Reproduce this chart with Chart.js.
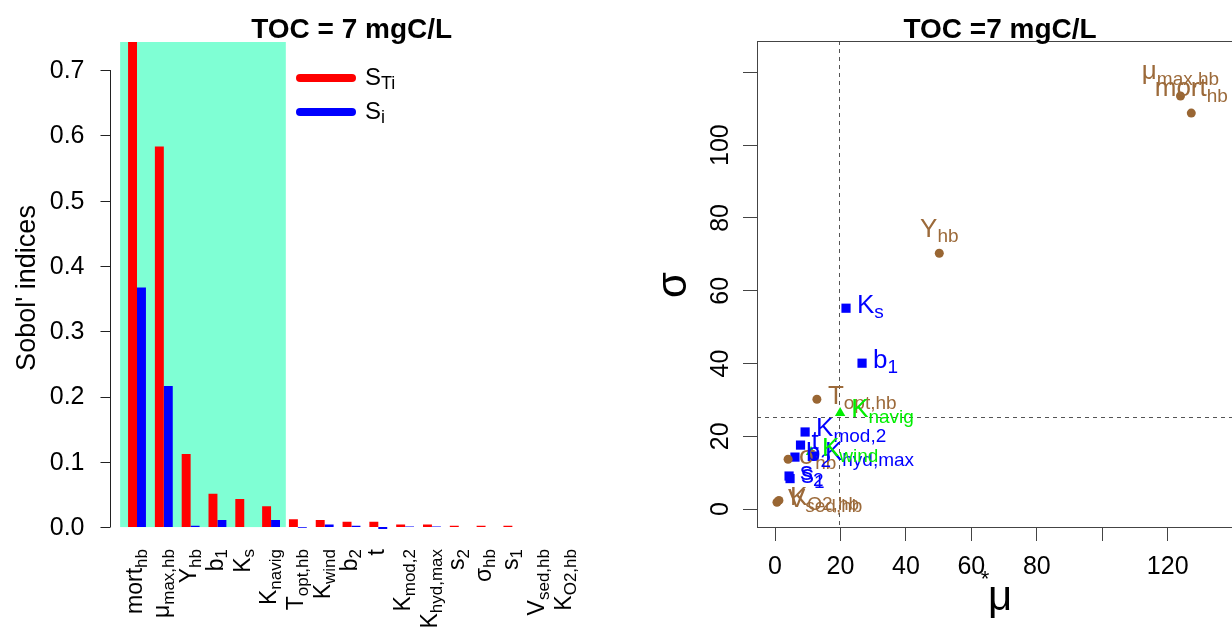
<!DOCTYPE html>
<html>
<head>
<meta charset="utf-8">
<script src="https://cdn.jsdelivr.net/npm/chart.js@4.4.0/dist/chart.umd.min.js"></script>
<style>
html, body { margin: 0; padding: 0; background: #fff; overflow: hidden; width: 1232px; height: 637px; }
#left { position: absolute; left: 0; top: 0; width: 616px; height: 637px; }
#right { position: absolute; left: 616px; top: 0; width: 640px; height: 637px; }
</style>
</head>
<body>
<div id="left"><canvas id="sobolBar"></canvas></div>
<div id="right"><canvas id="morrisScatter"></canvas></div>
<script>
// parameter names: main symbol + subscript
const paramMain = ['mort', 'μ', 'Y', 'b', 'K', 'K', 'T', 'K', 'b', 't', 'K', 'K', 's', 'σ', 's', 'V', 'K'];
const paramSub  = ['hb', 'max,hb', 'hb', '1', 's', 'navig', 'opt,hb', 'wind', '2', '', 'mod,2', 'hyd,max', '2', 'hb', '1', 'sed,hb', 'O2,hb'];

// Sobol' indices (left panel)
const totalIdx = [0.76, 0.583, 0.112, 0.051, 0.043, 0.032, 0.012, 0.011, 0.008, 0.008, 0.004, 0.004, 0.002, 0.002, 0.002, 0, 0];
const firstIdx = [0.367, 0.216, 0.002, 0.011, 0, 0.011, -0.001, 0.004, 0.002, -0.003, 0.001, 0.001, 0, 0, 0, 0, 0];
const sobolTicks = [0, 0.1, 0.2, 0.3, 0.4, 0.5, 0.6, 0.7];
const sobolTickLabels = ['0.0', '0.1', '0.2', '0.3', '0.4', '0.5', '0.6', '0.7'];
const highlightCount = 6;

// Morris screening (right panel)
const muStar = [127.2, 123.9, 50.2, 26.6, 21.7, 19.9, 12.8, 11.0, 6.1, 7.8, 9.2, 11.9, 4.3, 4.0, 4.6, 0.6, 1.2];
const sigma  = [108.8, 113.5, 70.3, 40.1, 55.2, 26.4, 30.2, 15.7, 14.3, 17.6, 21.2, 14.6, 9.1, 13.7, 8.4, 1.9, 2.4];
const paramGroup = ['hb', 'hb', 'hb', 'bio', 'bio', 'phys', 'hb', 'phys', 'bio', 'bio', 'bio', 'bio', 'bio', 'hb', 'bio', 'hb', 'hb'];
const labelSide = ['top', 'top', 'top', 'right', 'right', 'right', 'right', 'right', 'right', 'right', 'right', 'right', 'right', 'right', 'right', 'right', 'right'];
const muTicks = [0, 20, 40, 60, 80, 100, 120];
const muTickLabels = ['0', '20', '40', '60', '80', '', '120'];
const sigmaTicks = [0, 20, 40, 60, 80, 100, 120];
const sigmaTickLabels = ['0', '20', '40', '60', '80', '100', ''];
const muCut = 19.5;
const sigmaCut = 25.3;

const FONT = '"Liberation Sans", Arial, sans-serif';
Chart.defaults.font.family = FONT;

const groupStyle = {
    hb:   { color: '#996633', pointStyle: 'circle', radius: 4.5 },
    bio:  { color: '#0000FF', pointStyle: 'rect', radius: 6.5 },
    phys: { color: '#00EE00', pointStyle: 'triangle', radius: 6 }
};

function drawRich(ctx, main, sub, x, y, size, color, align) {
    const subSize = Math.round(size * 0.74);
    ctx.font = size + 'px ' + FONT;
    const wm = ctx.measureText(main).width;
    ctx.font = subSize + 'px ' + FONT;
    const ws = sub ? ctx.measureText(sub).width : 0;
    const w = wm + ws;
    const x0 = align === 'left' ? x : align === 'center' ? x - w / 2 : x - w;
    const base = y + size * 0.36;
    ctx.fillStyle = color;
    ctx.textAlign = 'left';
    ctx.textBaseline = 'alphabetic';
    ctx.font = size + 'px ' + FONT;
    ctx.fillText(main, x0, base);
    if (sub) {
        ctx.font = subSize + 'px ' + FONT;
        ctx.fillText(sub, x0 + wm, base + size * 0.2);
    }
}

// ---------- left: Sobol' bar chart ----------
const sobolPlugin = {
    id: 'sobolDecor',
    beforeDatasetsDraw(chart) {
        const ctx = chart.ctx, xs = chart.scales.x, ys = chart.scales.y;
        const catW = xs.getPixelForValue(1) - xs.getPixelForValue(0);
        const x1 = xs.getPixelForValue(0) - catW * 2 / 3 + 1;
        const x2 = xs.getPixelForValue(highlightCount - 1) + catW * 0.55;
        ctx.save();
        ctx.fillStyle = '#7FFFD4';
        ctx.fillRect(x1, chart.chartArea.top, x2 - x1, ys.getPixelForValue(0) - chart.chartArea.top);
        ctx.restore();
    },
    afterDraw(chart) {
        const ctx = chart.ctx, xs = chart.scales.x, ys = chart.scales.y;
        const catW = xs.getPixelForValue(1) - xs.getPixelForValue(0);
        const axisX = Math.round(xs.getPixelForValue(0) - catW) + 0.5;
        ctx.save();
        // y axis
        ctx.strokeStyle = '#222';
        ctx.lineWidth = 1;
        ctx.beginPath();
        ctx.moveTo(axisX, ys.getPixelForValue(sobolTicks[0]));
        ctx.lineTo(axisX, ys.getPixelForValue(sobolTicks[sobolTicks.length - 1]));
        sobolTicks.forEach(v => {
            const y = Math.round(ys.getPixelForValue(v)) + 0.5;
            ctx.moveTo(axisX, y);
            ctx.lineTo(axisX - 10, y);
        });
        ctx.stroke();
        ctx.fillStyle = '#000';
        ctx.font = '25px ' + FONT;
        ctx.textAlign = 'right';
        ctx.textBaseline = 'middle';
        sobolTicks.forEach((v, i) => ctx.fillText(sobolTickLabels[i], axisX - 26, ys.getPixelForValue(v) + 1));

        // y title
        ctx.save();
        ctx.translate(28, 288);
        ctx.rotate(-Math.PI / 2);
        ctx.textAlign = 'center';
        ctx.font = '27px ' + FONT;
        ctx.fillText("Sobol' indices", 0, 0);
        ctx.restore();

        // category labels, rotated
        paramMain.forEach((m, i) => {
            const x = xs.getPixelForValue(i);
            ctx.save();
            ctx.translate(x - 3, 549);
            ctx.rotate(-Math.PI / 2);
            drawRich(ctx, m, paramSub[i], 0, 0, 23, '#000', 'right');
            ctx.restore();
        });

        // title
        ctx.fillStyle = '#000';
        ctx.font = 'bold 28px ' + FONT;
        ctx.textAlign = 'center';
        ctx.textBaseline = 'middle';
        ctx.fillText('TOC = 7 mgC/L', (axisX + xs.getPixelForValue(paramMain.length - 1) + catW) / 2, 30);

        // legend
        const leg = [['#FF0000', 'S', 'Ti', 78], ['#0000FF', 'S', 'i', 112]];
        leg.forEach(([c, m, s, y]) => {
            ctx.strokeStyle = c;
            ctx.lineWidth = 8;
            ctx.lineCap = 'round';
            ctx.beginPath();
            ctx.moveTo(300, y);
            ctx.lineTo(352, y);
            ctx.stroke();
            drawRich(ctx, m, s, 365, y - 2, 24, '#000', 'left');
        });
        ctx.restore();
    }
};

new Chart(document.getElementById('sobolBar'), {
    type: 'bar',
    data: {
        labels: paramMain.map((m, i) => m + paramSub[i]),
        datasets: [
            { label: 'S_Ti', data: totalIdx, backgroundColor: '#FF0000', categoryPercentage: 2 / 3, barPercentage: 1 },
            { label: 'S_i', data: firstIdx, backgroundColor: '#0000FF', categoryPercentage: 2 / 3, barPercentage: 1 }
        ]
    },
    options: {
        responsive: true,
        maintainAspectRatio: false,
        animation: false,
        layout: { padding: { left: 123.6, right: 36.6, top: 42, bottom: 106 } },
        plugins: { legend: { display: false }, tooltip: { enabled: false } },
        scales: {
            x: { display: false },
            y: { display: false, min: -0.006, max: 0.743 }
        }
    },
    plugins: [sobolPlugin]
});

// ---------- right: Morris mu* vs sigma ----------
const morrisPlugin = {
    id: 'morrisDecor',
    beforeDatasetsDraw(chart) {
        const ctx = chart.ctx, xs = chart.scales.x, ys = chart.scales.y, ca = chart.chartArea;
        ctx.save();
        ctx.strokeStyle = '#555';
        ctx.lineWidth = 1;
        ctx.setLineDash([4, 4]);
        const vx = Math.round(xs.getPixelForValue(muCut)) + 0.5;
        const hy = Math.round(ys.getPixelForValue(sigmaCut)) + 0.5;
        ctx.beginPath();
        ctx.moveTo(vx, ca.top);
        ctx.lineTo(vx, ca.bottom);
        ctx.moveTo(ca.left, hy);
        ctx.lineTo(ca.right, hy);
        ctx.stroke();
        ctx.restore();
    },
    afterDatasetsDraw(chart) {
        const ctx = chart.ctx;
        ctx.save();
        chart.data.datasets.forEach((ds, di) => {
            const meta = chart.getDatasetMeta(di);
            meta.data.forEach((pt, j) => {
                const i = ds.paramIndex[j];
                const size = 26;
                if (labelSide[i] === 'top') {
                    drawRich(ctx, paramMain[i], paramSub[i], pt.x, pt.y - 26, size, ds.labelColor, 'center');
                } else {
                    drawRich(ctx, paramMain[i], paramSub[i], pt.x + 11, pt.y - 5, size, ds.labelColor, 'left');
                }
            });
        });
        ctx.restore();
    },
    afterDraw(chart) {
        const ctx = chart.ctx, ys = chart.scales.y, ca = chart.chartArea;
        ctx.save();
        ctx.strokeStyle = '#444';
        ctx.lineWidth = 1;
        ctx.strokeRect(Math.round(ca.left) + 0.5, Math.round(ca.top) + 0.5, Math.round(ca.width), Math.round(ca.height));
        // rotated y tick labels
        ctx.fillStyle = '#000';
        ctx.font = '25px ' + FONT;
        ctx.textAlign = 'center';
        ctx.textBaseline = 'middle';
        sigmaTicks.forEach((v, i) => {
            ctx.save();
            ctx.translate(ca.left - 36, ys.getPixelForValue(v));
            ctx.rotate(-Math.PI / 2);
            ctx.fillText(sigmaTickLabels[i], 0, 0);
            ctx.restore();
        });
        // axis titles
        ctx.save();
        ctx.translate(58, 285);
        ctx.rotate(-Math.PI / 2);
        ctx.font = '42px ' + FONT;
        ctx.fillText('σ', 0, 0);
        ctx.restore();
        ctx.font = '42px ' + FONT;
        ctx.fillText('μ', 384, 598);
        ctx.font = '22px ' + FONT;
        ctx.fillText('*', 369, 580);
        // title
        ctx.font = 'bold 28px ' + FONT;
        ctx.fillText('TOC =7 mgC/L', 384, 30);
        ctx.restore();
    }
};

const groups = ['hb', 'bio', 'phys'];
const morrisSets = groups.map(g => {
    const idx = paramGroup.map((p, i) => p === g ? i : -1).filter(i => i >= 0);
    const st = groupStyle[g];
    return {
        label: g,
        paramIndex: idx,
        labelColor: g === 'hb' ? '#9C6A3A' : st.color,
        data: idx.map(i => ({ x: muStar[i], y: sigma[i] })),
        pointStyle: st.pointStyle,
        pointRadius: st.radius,
        pointBackgroundColor: st.color,
        pointBorderColor: st.color,
        pointBorderWidth: 0
    };
});

new Chart(document.getElementById('morrisScatter'), {
    type: 'scatter',
    data: { datasets: morrisSets },
    options: {
        responsive: true,
        maintainAspectRatio: false,
        animation: false,
        layout: { padding: { left: 0, right: 13, top: 41, bottom: 0 } },
        plugins: { legend: { display: false }, tooltip: { enabled: false } },
        scales: {
            x: {
                type: 'linear', min: -5.5, max: 143,
                afterBuildTicks: s => { s.ticks = muTicks.map(v => ({ value: v })); },
                afterFit: s => { s.height = 110; },
                ticks: { callback: (v, i) => muTickLabels[i], color: '#000', font: { size: 25 }, padding: 11, maxRotation: 0, autoSkip: false },
                grid: { drawOnChartArea: false, tickLength: 14, color: '#444' },
                border: { color: '#444' }
            },
            y: {
                type: 'linear', min: -4.9, max: 128.6,
                afterBuildTicks: s => { s.ticks = sigmaTicks.map(v => ({ value: v })); },
                afterFit: s => { s.width = 141; },
                ticks: { callback: () => '', autoSkip: false },
                grid: { drawOnChartArea: false, tickLength: 14, color: '#444' },
                border: { color: '#444' }
            }
        }
    },
    plugins: [morrisPlugin]
});
</script>
</body>
</html>
